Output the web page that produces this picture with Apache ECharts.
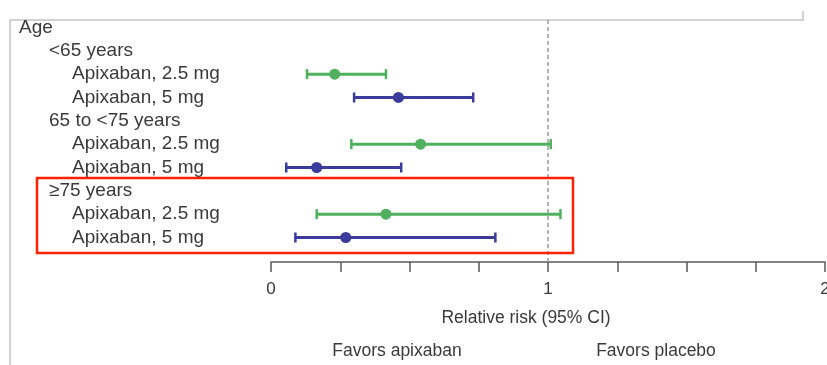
<!DOCTYPE html>
<html>
<head>
<meta charset="utf-8">
<script src="https://cdn.jsdelivr.net/npm/echarts@6/dist/echarts.min.js"></script>
<style>
  html, body { margin: 0; padding: 0; background: #fff; overflow: hidden; }
  #chart { width: 827px; height: 365px; }
</style>
</head>
<body>
<div id="chart"></div>
<script>
// Row labels, top to bottom, with indent level (0 = heading, 1 = age group, 2 = dose)
const rowLabels = [
  'Age',
  '<65 years',
  'Apixaban, 2.5 mg',
  'Apixaban, 5 mg',
  '65 to <75 years',
  'Apixaban, 2.5 mg',
  'Apixaban, 5 mg',
  '≥75 years',
  'Apixaban, 2.5 mg',
  'Apixaban, 5 mg'
];
const rowLevels = [0, 1, 2, 2, 1, 2, 2, 1, 2, 2];

// Relative risk estimates with 95% CI, by row index
const dose25Rows  = [2, 5, 8];
const dose25Est   = [0.23, 0.54, 0.415];
const dose25Low   = [0.13, 0.29, 0.165];
const dose25High  = [0.415, 1.01, 1.045];

const dose5Rows   = [3, 6, 9];
const dose5Est    = [0.46, 0.165, 0.27];
const dose5Low    = [0.30, 0.055, 0.088];
const dose5High   = [0.73, 0.47, 0.81];

// X axis ticks and the labels shown
const xTicks = [0, 0.25, 0.5, 0.75, 1, 1.25, 1.5, 1.75, 2];
const xTickLabels = { 0: '0', 1: '1', 2: '2' };

const GREEN = '#4fb05e';
const BLUE = '#3b3b9b';
const TEXT = '#3a3a3a';
const FONT = 'Liberation Sans, Arial, sans-serif';

const indentX = [19, 49, 72];

function ciRender(params, api) {
  const lo = api.coord([api.value(0), api.value(2)]);
  const hi = api.coord([api.value(1), api.value(2)]);
  const color = api.visual('color');
  const cap = 5;
  const style = { stroke: color, lineWidth: 3 };
  return {
    type: 'group',
    children: [
      { type: 'line', shape: { x1: lo[0], y1: lo[1], x2: hi[0], y2: hi[1] }, style },
      { type: 'line', shape: { x1: lo[0], y1: lo[1] - cap, x2: lo[0], y2: lo[1] + cap }, style: { stroke: color, lineWidth: 2.5 } },
      { type: 'line', shape: { x1: hi[0], y1: hi[1] - cap, x2: hi[0], y2: hi[1] + cap }, style: { stroke: color, lineWidth: 2.5 } }
    ]
  };
}

function labelRender(params, api) {
  const i = api.value(0);
  const p = api.coord([0, i]);
  return {
    type: 'text',
    x: indentX[rowLevels[i]],
    y: p[1],
    style: {
      text: rowLabels[i],
      fill: TEXT,
      font: '19px ' + FONT,
      verticalAlign: 'middle',
      align: 'left'
    }
  };
}

const chart = echarts.init(document.getElementById('chart'), null, { renderer: 'canvas', width: 827, height: 365 });

chart.setOption({
  animation: false,
  backgroundColor: '#fff',
  grid: { left: 271, width: 554, top: 20, bottom: 103, containLabel: false, outerBoundsMode: 'none' },
  xAxis: {
    type: 'value',
    position: 'bottom',
    min: 0,
    max: 2,
    interval: 0.25,
    axisLine: { show: true, onZero: false, lineStyle: { color: '#5a5a5a', width: 1.5 } },
    axisTick: { show: true, length: 10, lineStyle: { color: '#5a5a5a', width: 1.5 } },
    axisLabel: {
      show: true,
      margin: 19,
      color: TEXT,
      fontFamily: FONT,
      fontSize: 17,
      showMaxLabel: true,
      hideOverlap: false,
      formatter: v => xTickLabels[v] !== undefined ? xTickLabels[v] : ''
    },
    splitLine: { show: false }
  },
  yAxis: {
    type: 'value',
    inverse: true,
    min: -0.32,
    max: 10.05,
    show: false
  },
  series: [
    {
      type: 'custom',
      name: 'labels',
      clip: false,
      renderItem: labelRender,
      data: rowLabels.map((_, i) => [i]),
      silent: true
    },
    {
      type: 'line',
      name: 'null',
      data: [],
      markLine: {
        silent: true,
        symbol: 'none',
        label: { show: false },
        lineStyle: { color: '#9a9a9a', type: [4, 3], width: 1.5 },
        data: [{ xAxis: 1 }]
      }
    },
    {
      type: 'custom',
      name: 'Apixaban, 2.5 mg CI',
      itemStyle: { color: GREEN },
      renderItem: ciRender,
      encode: { x: [0, 1], y: 2 },
      data: dose25Rows.map((r, k) => [dose25Low[k], dose25High[k], r])
    },
    {
      type: 'custom',
      name: 'Apixaban, 5 mg CI',
      itemStyle: { color: BLUE },
      renderItem: ciRender,
      encode: { x: [0, 1], y: 2 },
      data: dose5Rows.map((r, k) => [dose5Low[k], dose5High[k], r])
    },
    {
      type: 'scatter',
      name: 'Apixaban, 2.5 mg',
      symbol: 'circle',
      symbolSize: 11,
      itemStyle: { color: GREEN, opacity: 1 },
      data: dose25Rows.map((r, k) => [dose25Est[k], r])
    },
    {
      type: 'scatter',
      name: 'Apixaban, 5 mg',
      symbol: 'circle',
      symbolSize: 11,
      itemStyle: { color: BLUE, opacity: 1 },
      data: dose5Rows.map((r, k) => [dose5Est[k], r])
    }
  ],
  graphic: [
    // panel frame
    { type: 'polyline', shape: { points: [[10, 365], [10, 20], [803, 20], [803, 11]] },
      style: { stroke: '#c4c4c4', lineWidth: 1.5, fill: null }, silent: true },
    // highlight around the ≥75 years group
    { type: 'rect', shape: { x: 37, y: 178, width: 536, height: 75 },
      style: { stroke: '#ff2200', lineWidth: 2.5, fill: null }, silent: true, z: 10 },
    { type: 'text', x: 526, y: 318, style: { text: 'Relative risk (95% CI)', fill: TEXT, font: '17.5px ' + FONT, align: 'center', verticalAlign: 'middle' } },
    { type: 'text', x: 397, y: 351, style: { text: 'Favors apixaban', fill: TEXT, font: '17.5px ' + FONT, align: 'center', verticalAlign: 'middle' } },
    { type: 'text', x: 656, y: 351, style: { text: 'Favors placebo', fill: TEXT, font: '17.5px ' + FONT, align: 'center', verticalAlign: 'middle' } }
  ]
});
</script>
</body>
</html>
